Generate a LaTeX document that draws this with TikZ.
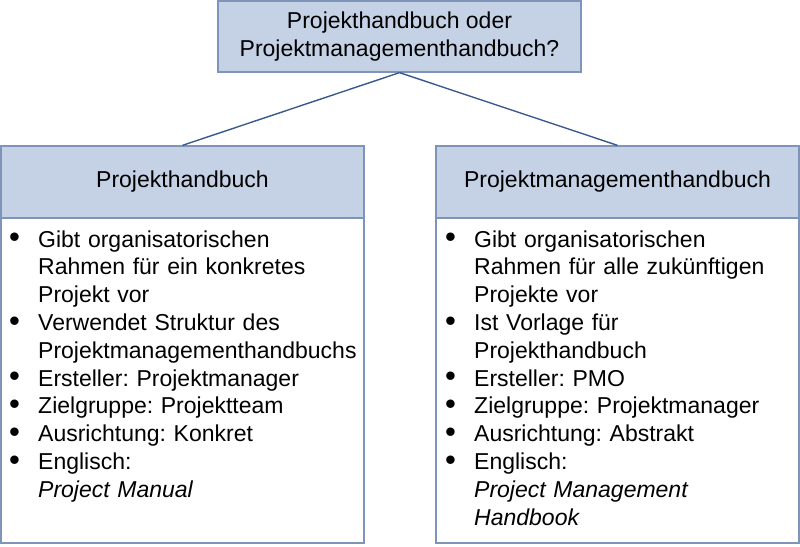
\documentclass[tikz,border=0pt]{standalone}
\usepackage{fontspec}
\usepackage{graphicx}
\setmainfont{Liberation Sans}
\frenchspacing
\definecolor{hdfill}{RGB}{197,210,230}
\definecolor{boxline}{RGB}{127,148,185}
\definecolor{conn}{RGB}{56,88,142}
\newcommand{\bul}{\makebox[29pt][l]{\raisebox{-0.8pt}{\scalebox{1.35}{\textbullet}}}}
\newcommand{\ind}{\hspace*{29pt}}
\tikzset{
  hd/.style={draw=boxline, line width=1.3pt, fill=hdfill, inner sep=0pt, font=\fontsize{23}{27.6}\selectfont, align=center},
  bodybox/.style={draw=boxline, line width=1.3pt, fill=white, inner sep=0pt},
  listtxt/.style={inner sep=0pt, anchor=base west, text width=350pt, align=left, font=\fontsize{23}{27.8}\selectfont},
  connline/.style={draw=conn, line width=1.4pt}
}
\begin{document}
\begin{tikzpicture}[x=1pt,y=-1pt]
\useasboundingbox (0,0) rectangle (800,546);
\node[hd, minimum width=363pt, minimum height=71pt] (top) at (399.5,36.5) {Projekthandbuch oder\\Projektmanagementhandbuch?};
\node[bodybox, minimum width=363pt, minimum height=325pt] (lbody) at (182.5,380.5) {};
\node[hd, minimum width=363pt, minimum height=72pt] (lhead) at (182.5,182) {Projekthandbuch};
\node[bodybox, minimum width=363pt, minimum height=325pt] (rbody) at (617.5,380.5) {};
\node[hd, minimum width=363pt, minimum height=72pt] (rhead) at (617.5,182) {Projektmanagementhandbuch};
\draw[connline] (top.south) -- (lhead.north);
\draw[connline] (top.south) -- (rhead.north);
\node[listtxt] (ltext) at (9,247) {%
\bul Gibt organisatorischen\\
\ind Rahmen für ein konkretes\\
\ind Projekt vor\\
\bul Verwendet Struktur des\\
\ind Projektmanagementhandbuchs\\
\bul Ersteller: Projektmanager\\
\bul Zielgruppe: Projektteam\\
\bul Ausrichtung: Konkret\\
\bul Englisch:\\
\ind \textit{Project Manual}};
\node[listtxt] (rtext) at (445,247) {%
\bul Gibt organisatorischen\\
\ind Rahmen für alle zukünftigen\\
\ind Projekte vor\\
\bul Ist Vorlage für\\
\ind Projekthandbuch\\
\bul Ersteller: PMO\\
\bul Zielgruppe: Projektmanager\\
\bul Ausrichtung: Abstrakt\\
\bul Englisch:\\
\ind \textit{Project Management}\\
\ind \textit{Handbook}};
\end{tikzpicture}
\end{document}
